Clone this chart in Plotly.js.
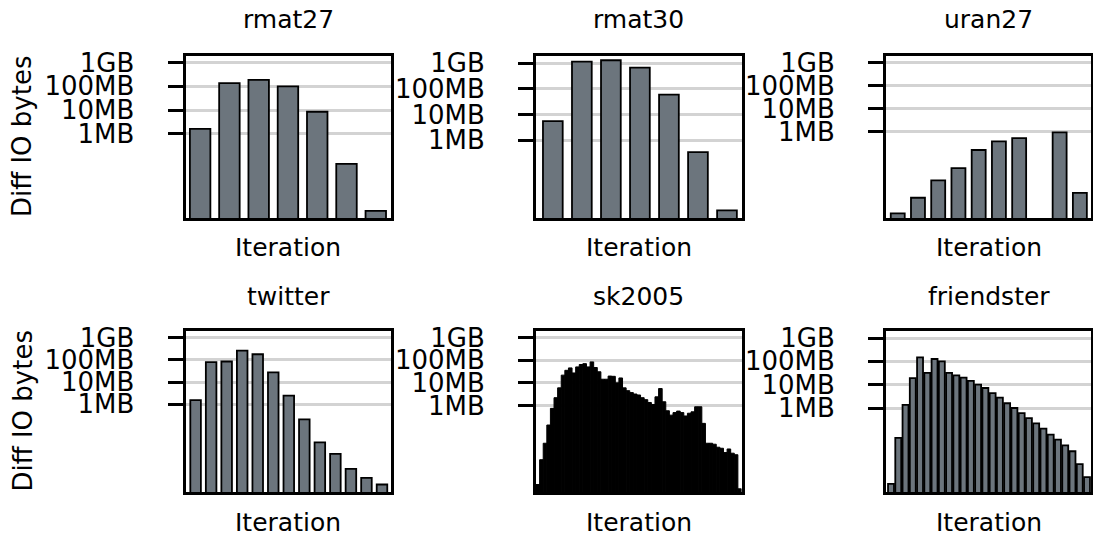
<!DOCTYPE html>
<html>
<head>
<meta charset="utf-8">
<script src="https://cdn.plot.ly/plotly-3.0.1.min.js"></script>
<style>html,body{margin:0;padding:0;background:#fff;}#chart{width:1093px;height:539px;}</style>
</head>
<body>
<div id="chart"></div>
<script>
// ---- data (bytes per iteration) ----
const titles = ["rmat27", "rmat30", "uran27", "twitter", "sk2005", "friendster"];
const rmat27 = [1.6e6, 1.37e8, 1.86e8, 1.0e8, 8.5e6, 5.4e4, 5.6e2];
const rmat30 = [5.6e6, 1.15e9, 1.3e9, 6.7e8, 6.0e7, 3.5e5, 1.9e3];
const uran27 = [2.8e2, 1.35e3, 7.6e3, 2.6e4, 1.6e5, 3.8e5, 5.3e5, null, 9.4e5, 2.2e3];
const twitter = [1.55e6, 7.9e7, 8.5e7, 2.6e8, 1.8e8, 2.75e7, 2.5e6, 2.1e5, 1.95e4, 5.9e3, 1.26e3, 5.0e2, 2.5e2];
const sk2005 = [3.1e2, 3.9e3, 2.1e4, 1.35e5, 7.4e5, 2.2e6, 6.0e6, 2.2e7, 3.6e7, 4.6e7,
  2.75e7, 5.1e7, 6.5e7, 7.1e7, 5.1e7, 8.5e7, 4.8e7, 3.1e7, 1.45e7, 1.45e7,
  2.0e7, 1.95e7, 1.0e7, 1.65e7, 6.0e6, 4.5e6, 3.7e6, 3.2e6, 2.9e6, 2.2e6,
  1.8e6, 1.35e6, 1.1e6, 2.4e6, 5.6e6, 1.45e6, 5.8e5, 3.7e5, 4.8e5, 5.6e5,
  4.8e5, 3.4e5, 4.5e5, 5.2e5, 8.7e5, 8.7e5, 1.6e5, 2.1e4, 2.1e4, 1.9e4,
  1.4e4, 1.26e4, 8.1e3, 1.17e4, 7.6e3, 6.5e3, 2.0e2];
const friendster = [5.6e2, 5.2e4, 1.35e6, 1.9e7, 1.48e8, 3.2e7, 1.26e8, 1.0e8, 3.2e7, 2.5e7,
  2.0e7, 1.45e7, 1.0e7, 7.2e6, 4.3e6, 2.8e6, 1.6e6, 1.0e6, 6.0e5, 3.7e5,
  2.2e5, 1.3e5, 7.2e4, 4.4e4, 2.5e4, 1.4e4, 3.9e3, 1.1e3];
const tickVals = [1e6, 1e7, 1e8, 1e9];
const tickText = ["1MB", "10MB", "100MB", "1GB"];
const xLabel = "Iteration";
const yLabel = "Diff IO bytes";

const series = [rmat27, rmat30, uran27, twitter, sk2005, friendster];
const barColors = ["#6c757d", "#6c757d", "#6c757d", "#6c757d", "#000000", "#6c757d"];
const barWidths = [0.7, 0.68, 0.69, 0.68, 1.0, 0.82];
const xRanges = [[-0.5, 6.52], [-0.58, 6.5], [-0.58, 9.55], [-0.65, 12.58], [-0.5, 56.5], [-0.69, 27.55]];
const yRanges = [[2.45, 9.28], [2.98, 9.28], [2.25, 9.29], [2.06, 9.3], [2.16, 9.3], [2.4, 9.3]];

const W = 1093, H = 539;
const colPx = [[185.5, 391], [536, 741.5], [886, 1091]];
const rowPx = [[56, 218], [331, 492]];
const FONT = "DejaVu Sans, sans-serif";

const data = [];
const layout = {
  width: W, height: H,
  margin: {l: 0, r: 0, t: 0, b: 0},
  paper_bgcolor: "#fff", plot_bgcolor: "#fff",
  showlegend: false,
  font: {family: FONT, size: 25, color: "#000"},
  annotations: []
};

series.forEach((vals, i) => {
  const r = Math.floor(i / 3), c = i % 3;
  const sfx = i === 0 ? "" : String(i + 1);
  data.push({
    type: "bar",
    x: vals.map((_, k) => k),
    y: vals,
    xaxis: "x" + sfx, yaxis: "y" + sfx,
    width: barWidths[i],
    marker: {color: barColors[i], line: {color: "#000", width: i === 4 ? 1 : 1.8}},
    hoverinfo: "skip"
  });
  layout["xaxis" + sfx] = {
    domain: [colPx[c][0] / W, colPx[c][1] / W],
    anchor: "y" + sfx,
    range: xRanges[i],
    showticklabels: false, ticks: "", showgrid: false, zeroline: false,
    showline: true, mirror: true, linecolor: "#000", linewidth: 3
  };
  layout["yaxis" + sfx] = {
    domain: [1 - rowPx[r][1] / H, 1 - rowPx[r][0] / H],
    anchor: "x" + sfx,
    type: "log",
    range: yRanges[i],
    tickmode: "array", tickvals: tickVals, ticktext: tickText,
    ticks: "outside", ticklen: 15, tickwidth: 3, tickcolor: "#000",
    ticklabelstandoff: 28,
    tickfont: {family: FONT, size: 26, color: "#000"},
    showgrid: true, gridcolor: "#d3d3d3", gridwidth: 3,
    zeroline: false,
    showline: true, mirror: true, linecolor: "#000", linewidth: 3
  };
  const cx = (colPx[c][0] + colPx[c][1]) / 2 / W;
  const titleY = [20, 296][r];
  const xlabY = [247, 522][r];
  layout.annotations.push({
    text: titles[i], xref: "paper", yref: "paper", x: cx, y: 1 - titleY / H,
    xanchor: "center", yanchor: "middle", showarrow: false,
    font: {family: FONT, size: 25, color: "#000"}
  });
  layout.annotations.push({
    text: xLabel, xref: "paper", yref: "paper", x: cx, y: 1 - xlabY / H,
    xanchor: "center", yanchor: "middle", showarrow: false,
    font: {family: FONT, size: 25, color: "#000"}
  });
  if (c === 0) {
    const cy = 1 - (rowPx[r][0] + rowPx[r][1]) / 2 / H;
    layout.annotations.push({
      text: yLabel, xref: "paper", yref: "paper", x: 22 / W, y: cy,
      xanchor: "center", yanchor: "middle", textangle: -90, showarrow: false,
      font: {family: FONT, size: 26, color: "#000"}
    });
  }
});

Plotly.newPlot("chart", data, layout, {staticPlot: true, displayModeBar: false});
</script>
</body>
</html>
